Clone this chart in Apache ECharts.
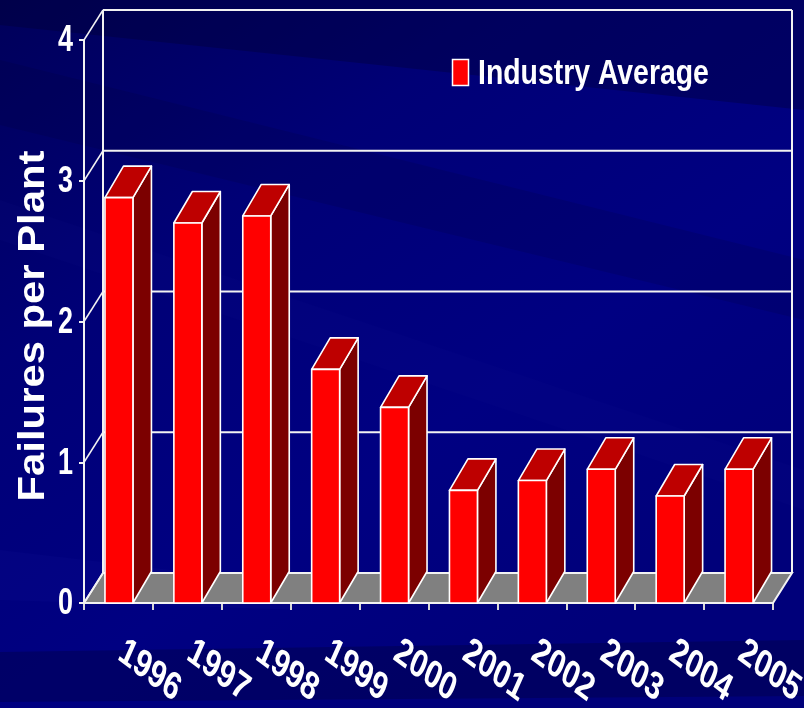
<!DOCTYPE html>
<html>
<head>
<meta charset="utf-8">
<script src="https://cdn.jsdelivr.net/npm/echarts@6/dist/echarts.min.js"></script>
<style>html,body{margin:0;padding:0;background:#000070;}#c{width:804px;height:708px;}</style>
</head>
<body>
<div id="c"></div>
<script>
const categories = ['1996','1997','1998','1999','2000','2001','2002','2003','2004','2005'];
const industryAverage = [2.88, 2.70, 2.75, 1.66, 1.39, 0.80, 0.87, 0.95, 0.76, 0.95];
const yTickValues = [0, 1, 2, 3, 4];
const yTickLabels = ['0', '1', '2', '3', '4'];
const seriesName = 'Industry Average';
const yTitle = 'Failures per Plant';

const WALL_DX = 19, WALL_DY = -30;
const BAR_DX = 18.5, BAR_DY = -31.5;
const LINE = '#F2F2F2';
const FONT = '"Liberation Sans", Arial, sans-serif';

const chart = echarts.init(document.getElementById('c'), null, {renderer: 'canvas'});

function stretchedText(x, y, text, size, sy, align, rot) {
  return {type: 'group', x: x, y: y, scaleY: sy, children: [
    {type: 'text', rotation: rot || 0,
      style: {text: text, x: 0, y: 0, align: align, verticalAlign: 'middle',
        fontSize: size, fontWeight: 'bold', fontFamily: FONT, fill: '#FFFFFF'}}
  ]};
}

function renderFrame(params, api) {
  const cs = params.coordSys;
  const x0 = cs.x, x1 = cs.x + cs.width;
  const y0 = api.coord([0, yTickValues[0]])[1];
  const yTop = api.coord([0, yTickValues[yTickValues.length - 1]])[1];
  const children = [];
  children.push({type: 'polygon', shape: {points: [[x0, y0], [x1, y0], [x1 + WALL_DX, y0 + WALL_DY], [x0 + WALL_DX, y0 + WALL_DY]]},
    style: {fill: '#808080', stroke: LINE, lineWidth: 2}});
  yTickValues.forEach((v, k) => {
    const yf = api.coord([0, v])[1];
    if (v > 0) {
      children.push({type: 'line', shape: {x1: x0 + WALL_DX, y1: yf + WALL_DY, x2: x1 + WALL_DX, y2: yf + WALL_DY}, style: {stroke: LINE, lineWidth: 2}});
    }
    children.push({type: 'line', shape: {x1: x0, y1: yf, x2: x0 + WALL_DX, y2: yf + WALL_DY}, style: {stroke: LINE, lineWidth: 1.5}});
    children.push(stretchedText(x0 - 11, yf + 1, yTickLabels[k], 27, 1.4, 'right'));
  });
  children.push({type: 'line', shape: {x1: x0 + WALL_DX, y1: yTop + WALL_DY, x2: x0 + WALL_DX, y2: y0 + WALL_DY}, style: {stroke: LINE, lineWidth: 2}});
  children.push({type: 'line', shape: {x1: x1 + WALL_DX, y1: yTop + WALL_DY, x2: x1 + WALL_DX, y2: y0 + WALL_DY}, style: {stroke: LINE, lineWidth: 2}});
  return {type: 'group', children};
}

function renderBar(params, api) {
  const i = params.dataIndex;
  const v = api.value(1);
  const base = api.coord([i, 0]);
  const top = api.coord([i, v]);
  const band = api.size([1, 0])[0];
  const w = band * 0.406;
  const xl = base[0] - w / 2 + 0.5, xr = base[0] + w / 2 + 0.5;
  const yb = base[1], yt = top[1];
  const border = {stroke: '#FFFFFF', lineWidth: 1.6, lineJoin: 'round'};
  return {type: 'group', children: [
    {type: 'polygon', shape: {points: [[xr, yb], [xr + BAR_DX, yb + BAR_DY], [xr + BAR_DX, yt + BAR_DY], [xr, yt]]},
      style: Object.assign({fill: '#7C0000'}, border)},
    {type: 'polygon', shape: {points: [[xl, yt], [xl + BAR_DX, yt + BAR_DY], [xr + BAR_DX, yt + BAR_DY], [xr, yt]]},
      style: Object.assign({fill: '#BE0000'}, border)},
    {type: 'rect', shape: {x: xl, y: yt, width: w, height: yb - yt},
      style: Object.assign({fill: '#FF0000'}, border)},
    stretchedText(base[0] + 31, yb + 68, categories[i], 30, 1.3, 'center', -Math.PI / 6)
  ]};
}

const option = {
  backgroundColor: {type: 'linear', x: 0, y: 0, x2: 0.6, y2: 1, colorStops: [
    {offset: 0, color: '#00005A'}, {offset: 0.35, color: '#000076'}, {offset: 0.7, color: '#000082'}, {offset: 1, color: '#00007A'}]},
  animation: false,
  graphic: [
    {type: 'polygon', z: 0, shape: {points: [[0, 0], [804, 0], [804, 110], [0, 25]]}, style: {fill: 'rgba(0,0,40,0.30)'}},
    {type: 'polygon', z: 0, shape: {points: [[0, 60], [804, 260], [804, 320], [0, 125]]}, style: {fill: 'rgba(0,0,40,0.14)'}},
    {type: 'polygon', z: 0, shape: {points: [[0, 200], [804, 470], [804, 510], [0, 240]]}, style: {fill: 'rgba(30,30,150,0.07)'}},
    {type: 'polygon', z: 0, shape: {points: [[0, 550], [300, 585], [300, 610], [0, 600]]}, style: {fill: 'rgba(30,30,170,0.10)'}},
    {type: 'polygon', z: 0, shape: {points: [[0, 652], [804, 640], [804, 696], [0, 702]]}, style: {fill: 'rgba(0,0,40,0.28)'}},
    {type: 'text', x: 34, y: 326, rotation: Math.PI / 2, scaleX: 1.13, z: 5,
      style: {text: yTitle, align: 'center', verticalAlign: 'middle', textAlign: 'center', textVerticalAlign: 'middle',
        fontSize: 37, fontWeight: 'bold', fontFamily: FONT, fill: '#FFFFFF'}},
    {type: 'rect', z: 5, shape: {x: 452.5, y: 59.5, width: 16, height: 26}, style: {fill: '#FF0000', stroke: '#FFFFFF', lineWidth: 1.5}},
    {type: 'group', z: 5, x: 478, y: 74.5, scaleY: 1.25, children: [
      {type: 'text', style: {text: seriesName, x: 0, y: 0, align: 'left', verticalAlign: 'middle', textAlign: 'left', textVerticalAlign: 'middle',
        fontSize: 28.4, fontWeight: 'bold', fontFamily: FONT, fill: '#FFFFFF'}}
    ]}
  ],
  grid: {left: 84, right: 31, top: 40, bottom: 105, containLabel: false},
  xAxis: {type: 'category', data: categories, boundaryGap: true,
    axisLine: {show: true, lineStyle: {color: LINE, width: 2}},
    axisTick: {show: true, alignWithLabel: false, length: 7, lineStyle: {color: '#D8D8D8', width: 2}},
    axisLabel: {show: false}, splitLine: {show: false}},
  yAxis: {type: 'value', min: 0, max: 4, interval: 1,
    axisLine: {show: true, lineStyle: {color: LINE, width: 2}},
    axisTick: {show: true, length: 5, lineStyle: {color: LINE, width: 2}},
    axisLabel: {show: false},
    splitLine: {show: false}},
  series: [
    {type: 'custom', name: 'frame', z: 1, silent: true, renderItem: renderFrame, data: [[0, 0]], tooltip: {show: false}},
    {type: 'custom', name: seriesName, z: 3, renderItem: renderBar, itemStyle: {color: '#FF0000'},
      data: industryAverage.map((v, i) => [i, v])}
  ]
};
chart.setOption(option);
</script>
</body>
</html>
